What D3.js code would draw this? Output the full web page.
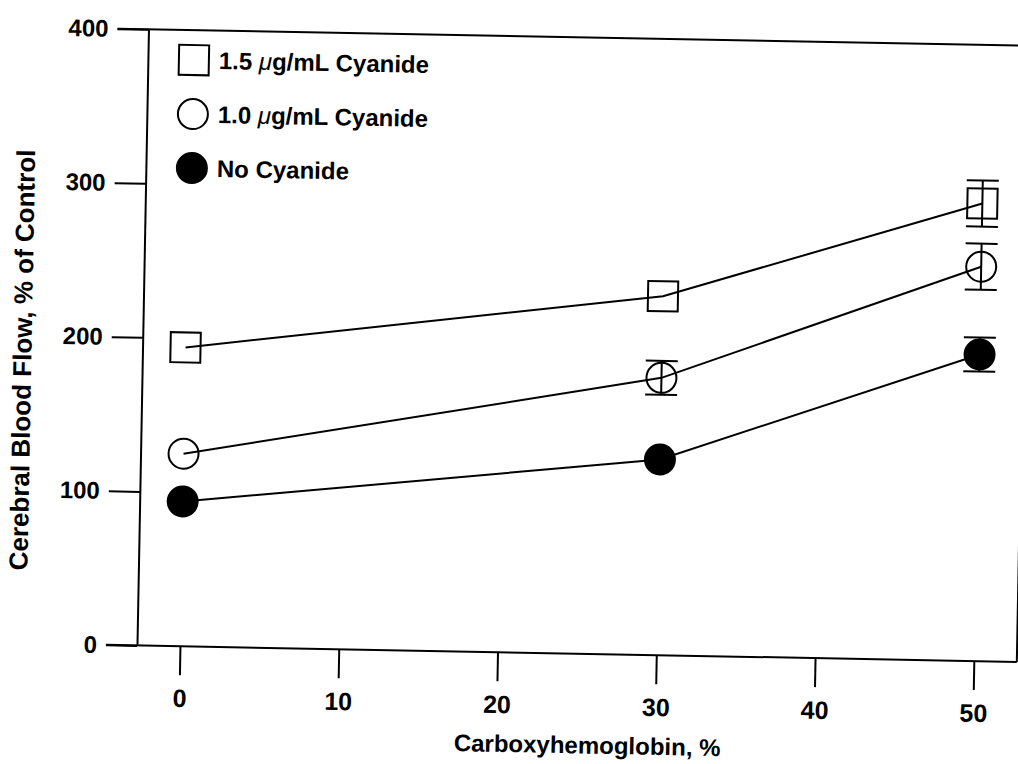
<!DOCTYPE html>
<html>
<head>
<meta charset="utf-8">
<script src="https://cdn.jsdelivr.net/npm/d3@7"></script>
<style>
  html, body { margin: 0; padding: 0; background: #fff; }
  svg { display: block; }
  text { font-family: "Liberation Sans", Arial, Helvetica, sans-serif; font-weight: bold; fill: #000; }
</style>
</head>
<body>
<svg id="chart" width="1018" height="764"></svg>
<script>
// Carboxyhemoglobin level (%) at which cerebral blood flow was measured
const carboxyhemoglobin = [0, 30, 50];

// Cerebral blood flow, % of control, for each cyanide dose
const cyanide15 = [194, 233, 297];
const cyanide10 = [125, 180, 256];
const noCyanide = [94, 127, 199];

// Standard error shown as vertical bars (null = hidden by the marker)
const cyanide15Err = [null, null, 15];
const cyanide10Err = [null, 11, 15];
const noCyanideErr = [null, null, 11];

const xTicks = [0, 10, 20, 30, 40, 50];
const yTicks = [0, 100, 200, 300, 400];

const seriesNames = ["1.5 \u03bcg/mL Cyanide", "1.0 \u03bcg/mL Cyanide", "No Cyanide"];
const seriesSymbols = ["square", "circle", "dot"];

const series = [
  { name: seriesNames[0], symbol: seriesSymbols[0], values: cyanide15, errors: cyanide15Err },
  { name: seriesNames[1], symbol: seriesSymbols[1], values: cyanide10, errors: cyanide10Err },
  { name: seriesNames[2], symbol: seriesSymbols[2], values: noCyanide, errors: noCyanideErr }
];

const svg = d3.select("#chart");

// frame geometry
const frameLeft = 142, frameRight = 1022;
const x = d3.scaleLinear().domain([0, 50]).range([185, 979]);
const y = d3.scaleLinear().domain([0, 400]).range([653.3, 37]);

// the printed figure sits slightly tilted on the page
const g = svg.append("g").attr("transform", "rotate(1.07, 560, 380)");

// y axis with outward ticks; the 0 and 400 ticks run into the frame lines
const yAxis = g.append("g")
  .attr("transform", `translate(${frameLeft},0)`)
  .call(d3.axisLeft(y).tickValues(yTicks).tickSize(31).tickSizeOuter(0).tickPadding(9));
yAxis.select(".domain").attr("stroke", "#000").attr("stroke-width", 2);
yAxis.selectAll(".tick line").attr("stroke", "#000").attr("stroke-width", 2);
yAxis.selectAll(".tick text").style("font-size", "24px").attr("font-family", null);

// x axis ticks hang below the baseline
const xAxis = g.append("g")
  .attr("transform", `translate(0,${y(0)})`)
  .call(d3.axisBottom(x).tickValues(xTicks).tickSize(29).tickSizeOuter(0).tickPadding(14));
xAxis.select(".domain").remove();
xAxis.selectAll(".tick line").attr("stroke", "#000").attr("stroke-width", 2);
xAxis.selectAll(".tick text").style("font-size", "25px").attr("font-family", null);

// frame: bottom, top and right edges
const tickLen = 31;
g.append("line")
  .attr("x1", frameLeft - tickLen).attr("x2", frameRight)
  .attr("y1", y(0)).attr("y2", y(0))
  .attr("stroke", "#000").attr("stroke-width", 2);
g.append("line")
  .attr("x1", frameLeft - tickLen).attr("x2", frameRight)
  .attr("y1", y(400)).attr("y2", y(400))
  .attr("stroke", "#000").attr("stroke-width", 2);
g.append("line")
  .attr("x1", frameRight).attr("x2", frameRight)
  .attr("y1", y(400)).attr("y2", y(0))
  .attr("stroke", "#000").attr("stroke-width", 2);

// axis titles
g.append("text")
  .attr("x", 594).attr("y", 753)
  .attr("text-anchor", "middle")
  .style("font-size", "24px")
  .text("Carboxyhemoglobin, %");

g.append("text")
  .attr("transform", "translate(31,370) rotate(-90)")
  .attr("text-anchor", "middle")
  .style("font-size", "26px")
  .text("Cerebral Blood Flow, % of Control");

// connecting lines
const line = d3.line()
  .x((d, i) => x(carboxyhemoglobin[i]))
  .y(d => y(d));

series.forEach(s => {
  g.append("path")
    .datum(s.values)
    .attr("d", line)
    .attr("fill", "none")
    .attr("stroke", "#000")
    .attr("stroke-width", 2);
});

// error bars
const capHalf = 16;
series.forEach(s => {
  s.values.forEach((v, i) => {
    const e = s.errors[i];
    if (e == null) return;
    const cx = x(carboxyhemoglobin[i]);
    const eg = g.append("g").attr("stroke", "#000").attr("stroke-width", 2);
    eg.append("line").attr("x1", cx).attr("x2", cx).attr("y1", y(v + e)).attr("y2", y(v - e));
    eg.append("line").attr("x1", cx - capHalf).attr("x2", cx + capHalf).attr("y1", y(v + e)).attr("y2", y(v + e));
    eg.append("line").attr("x1", cx - capHalf).attr("x2", cx + capHalf).attr("y1", y(v - e)).attr("y2", y(v - e));
  });
});

// marker drawing shared by plot and legend
function drawMarker(sel, symbol, cx, cy) {
  if (symbol === "square") {
    sel.append("rect")
      .attr("x", cx - 15).attr("y", cy - 15)
      .attr("width", 30).attr("height", 30)
      .attr("fill", "none").attr("stroke", "#000").attr("stroke-width", 2);
  } else if (symbol === "circle") {
    sel.append("circle")
      .attr("cx", cx).attr("cy", cy).attr("r", 15)
      .attr("fill", "none").attr("stroke", "#000").attr("stroke-width", 2);
  } else {
    sel.append("circle")
      .attr("cx", cx).attr("cy", cy).attr("r", 16)
      .attr("fill", "#000");
  }
}

series.forEach(s => {
  s.values.forEach((v, i) => drawMarker(g, s.symbol, x(carboxyhemoglobin[i]), y(v)));
});

// legend
const legendX = 188, legendY0 = 67, legendStep = 54;
series.forEach((s, i) => {
  const ly = legendY0 + i * legendStep;
  drawMarker(g, s.symbol, legendX, ly);
  const t = g.append("text")
    .attr("x", legendX + 25).attr("y", ly + 8.5)
    .style("font-size", "24px");
  const mu = s.name.indexOf("\u03bc");
  if (mu >= 0) {
    t.append("tspan").text(s.name.slice(0, mu));
    t.append("tspan").style("font-style", "italic").style("font-weight", "normal").text("\u03bc");
    t.append("tspan").text(s.name.slice(mu + 1));
  } else {
    t.text(s.name);
  }
});
</script>
</body>
</html>
